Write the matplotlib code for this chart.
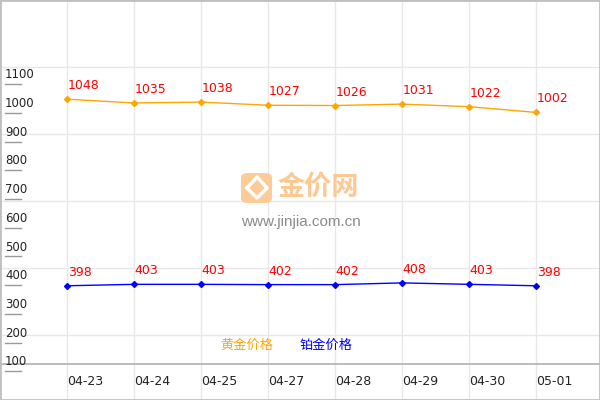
import matplotlib.pyplot as plt
import matplotlib.transforms as mtransforms
from matplotlib.patches import FancyBboxPatch

dates = ["04-23", "04-24", "04-25", "04-27", "04-28", "04-29", "04-30", "05-01"]
gold = [1048, 1035, 1038, 1027, 1026, 1031, 1022, 1002]
platinum = [398, 403, 403, 402, 402, 408, 403, 398]
ytick_vals = [100, 200, 300, 400, 500, 600, 700, 800, 900, 1000, 1100]
series_names = ["黄金价格", "铂金价格"]

gold_color = "#FFA500"
plat_color = "#0000FF"
label_red = "#FF0000"
grid_color = "#E8E8E8"

fig = plt.figure(figsize=(6, 4), dpi=100)
ax = fig.add_axes([0, 0, 1, 1])
x = list(range(len(dates)))
ax.set_xlim(-1, 7.955)
ax.set_ylim(0, 1393.7)
ax.set_xticks([])
ax.set_yticks([])
for s in ax.spines.values():
    s.set_color("#C0C0C0")
    s.set_linewidth(2)

# background grid (pixel spaced)
for gy in [67, 134, 201, 268, 335]:
    ax.plot([0, 1], [1 - gy / 400, 1 - gy / 400], color=grid_color, lw=1,
            transform=ax.transAxes, zorder=0)
for xi in x:
    ax.axvline(xi, color=grid_color, lw=1, zorder=0)

# x axis line
ax.plot([0, 1], [36 / 400, 36 / 400], color="#B0B0B0", lw=1.2,
        transform=ax.transAxes, zorder=1)

# y ticks and labels
trans = mtransforms.blended_transform_factory(ax.transAxes, ax.transData)
for v in ytick_vals:
    ax.plot([5 / 600, 21 / 600], [v, v], color="#999999", lw=1,
            transform=trans, clip_on=False)
    ax.annotate(str(v), xy=(5 / 600, v), xycoords=trans, xytext=(0, 4.3),
                textcoords="offset points", fontsize=8.5, color="#222222",
                ha="left", va="baseline")

# x labels
transx = mtransforms.blended_transform_factory(ax.transData, ax.transAxes)
for xi, d in zip(x, dates):
    ax.text(xi, 15 / 400, d, transform=transx, fontsize=9, color="#222222",
            ha="left", va="baseline")

# watermark
icon = FancyBboxPatch((241 / 600, 1 - 203 / 400), 31 / 600, 30 / 400,
                      boxstyle="round,pad=0,rounding_size=0.012",
                      transform=ax.transAxes, facecolor="#FDCB98",
                      edgecolor="none", zorder=1)
ax.add_patch(icon)
ax.plot([247 / 600, 257 / 600, 267 / 600, 257 / 600, 247 / 600],
        [1 - 188 / 400, 1 - 177 / 400, 1 - 188 / 400, 1 - 198 / 400, 1 - 188 / 400],
        color="white", lw=2.5, transform=ax.transAxes, zorder=1)
ax.text(277 / 600, 1 - 187 / 400, "金价网", transform=ax.transAxes,
        fontsize=19.5, fontweight="bold", color="#FCC894",
        family=["Noto Sans CJK SC", "DejaVu Sans"], ha="left", va="center", zorder=1)
ax.text(241 / 600, 1 - 222 / 400, "www.jinjia.com.cn", transform=ax.transAxes,
        fontsize=11, color="#8A8A8A", family="Liberation Sans",
        ha="left", va="center", zorder=1)

# series
ax.plot(x, gold, color=gold_color, lw=1.0, marker="D", ms=3, zorder=3)
ax.plot(x, platinum, color=plat_color, lw=1.0, marker="D", ms=3, zorder=3)
for xi, v in zip(x, gold):
    ax.annotate(str(v), xy=(xi, v), xytext=(0.5, 7.2), textcoords="offset points",
                fontsize=9, color=label_red, ha="left", va="baseline")
for xi, v in zip(x, platinum):
    ax.annotate(str(v), xy=(xi, v), xytext=(0.5, 7.2), textcoords="offset points",
                fontsize=9, color=label_red, ha="left", va="baseline")

# legend
ax.text(220 / 600, 1 - 345 / 400, series_names[0], transform=ax.transAxes,
        fontsize=9.5, color=gold_color, family=["Noto Sans CJK SC", "DejaVu Sans"],
        ha="left", va="center")
ax.text(300 / 600, 1 - 345 / 400, series_names[1], transform=ax.transAxes,
        fontsize=9.5, color=plat_color, family=["Noto Sans CJK SC", "DejaVu Sans"],
        ha="left", va="center")

fig.savefig("out.png", dpi=100)
